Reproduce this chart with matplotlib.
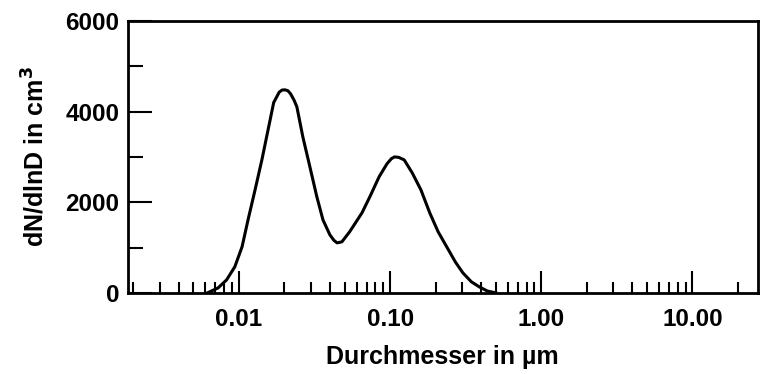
import matplotlib.pyplot as plt
from matplotlib.ticker import FixedLocator, LogLocator, NullFormatter

plt.rcParams['font.family'] = ['Liberation Sans', 'DejaVu Sans']

# size distribution
diameter = [0.0062, 0.0073, 0.0083, 0.0094, 0.0105, 0.0115, 0.0128, 0.0142, 0.0156,
            0.0170, 0.0185, 0.0193, 0.0202, 0.0211, 0.0220, 0.0232, 0.0242, 0.0265,
            0.0295, 0.0328, 0.0360, 0.0400, 0.0425, 0.0446, 0.0480, 0.0540, 0.0652,
            0.0740, 0.0846, 0.0955, 0.1020, 0.1070, 0.1140, 0.1240, 0.1400, 0.1600,
            0.1830, 0.2080, 0.2370, 0.2700, 0.3030, 0.3450, 0.3900, 0.4400, 0.5000]
dndlnd = [0, 110, 287, 574, 1015, 1610, 2272, 2934, 3596,
          4200, 4430, 4475, 4480, 4460, 4390, 4250, 4103, 3441,
          2780, 2118, 1610, 1280, 1160, 1103, 1125, 1346, 1765,
          2140, 2560, 2850, 2960, 3000, 2990, 2934, 2650, 2272,
          1765, 1346, 1015, 684, 441, 243, 130, 40, 0]

xticks = [0.01, 0.1, 1, 10]
xtick_labels = ['0.01', '0.10', '1.00', '10.00']
yticks = [0, 2000, 4000, 6000]

fig, ax = plt.subplots(figsize=(7.6, 3.74), dpi=100)
fig.subplots_adjust(left=0.168, right=0.997, top=0.944, bottom=0.217)

ax.plot(diameter, dndlnd, color='black', lw=2.2, solid_joinstyle='round')

ax.set_xscale('log')
ax.set_xlim(0.00184, 27)
ax.set_ylim(0, 6000)

ax.set_xticks(xticks)
ax.set_xticklabels(xtick_labels)
ax.xaxis.set_minor_locator(LogLocator(base=10, subs=range(2, 10)))
ax.xaxis.set_minor_formatter(NullFormatter())
ax.set_yticks(yticks)
ax.yaxis.set_minor_locator(FixedLocator([1000, 3000, 5000]))

ax.tick_params(axis='x', which='major', direction='in', length=16, width=1.5, pad=11)
ax.tick_params(axis='x', which='minor', direction='in', length=8, width=1.5)
ax.tick_params(axis='y', which='major', direction='in', length=17, width=1.5, pad=6)
ax.tick_params(axis='y', which='minor', direction='in', length=11, width=1.5)
for lab in ax.get_xticklabels() + ax.get_yticklabels():
    lab.set_fontsize(17.5)
    lab.set_fontweight('bold')

for sp in ax.spines.values():
    sp.set_linewidth(2)

ax.set_xlabel('Durchmesser in µm', fontsize=18, fontweight='bold', labelpad=10)
ax.set_ylabel('dN/dlnD in cm$^\\mathbf{3}$', fontsize=18, fontweight='bold', labelpad=12)

fig.savefig('out.png', dpi=100)
